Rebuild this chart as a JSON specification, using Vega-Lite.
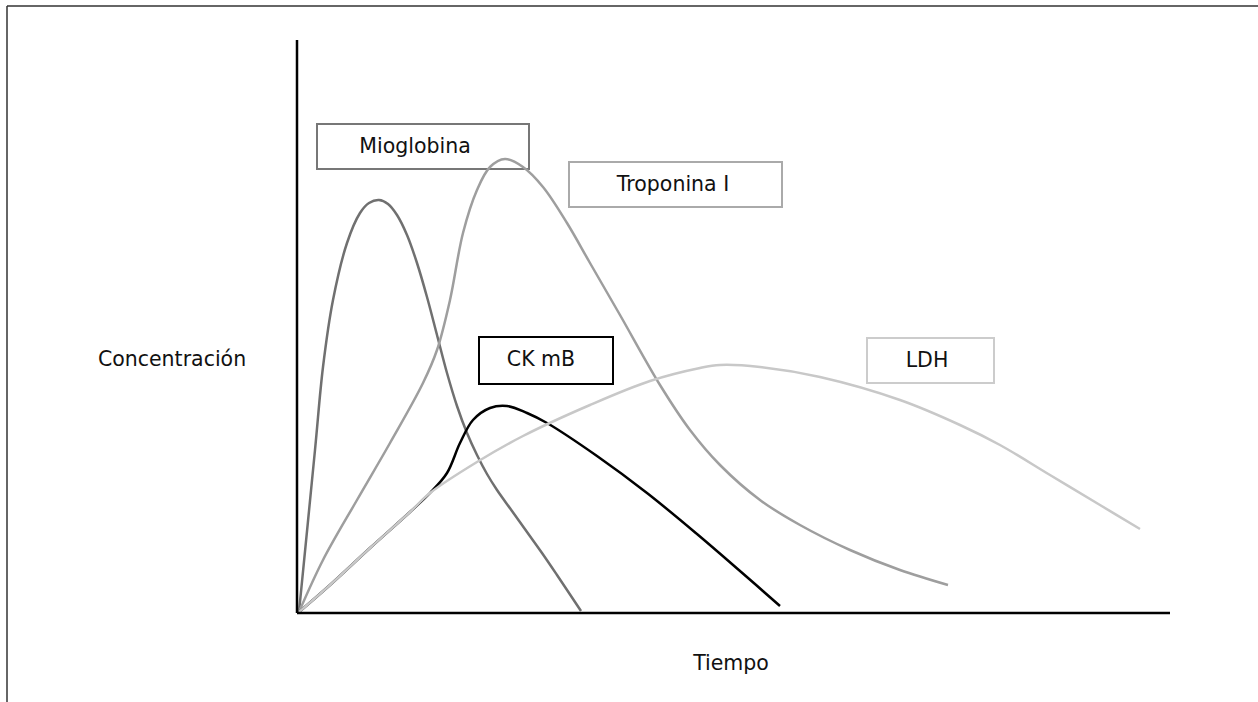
{
  "$schema": "https://vega.github.io/schema/vega-lite/v6.json",
  "width": 1258,
  "height": 702,
  "autosize": {"type": "none"},
  "padding": 0,
  "background": "white",
  "config": {"view": {"stroke": null}, "font": "DejaVu Sans"},
  "datasets": {
    "curves": [
      {"serie": "Mioglobina", "t": 2, "c": 1}, {"serie": "Mioglobina", "t": 18, "c": 163}, {"serie": "Mioglobina", "t": 26, "c": 246}, {"serie": "Mioglobina", "t": 36, "c": 313}, {"serie": "Mioglobina", "t": 50, "c": 370}, {"serie": "Mioglobina", "t": 63, "c": 400}, {"serie": "Mioglobina", "t": 72, "c": 410}, {"serie": "Mioglobina", "t": 82, "c": 413}, {"serie": "Mioglobina", "t": 91, "c": 409}, {"serie": "Mioglobina", "t": 100, "c": 398}, {"serie": "Mioglobina", "t": 110, "c": 378}, {"serie": "Mioglobina", "t": 120, "c": 350}, {"serie": "Mioglobina", "t": 130, "c": 316}, {"serie": "Mioglobina", "t": 140, "c": 278}, {"serie": "Mioglobina", "t": 150, "c": 240}, {"serie": "Mioglobina", "t": 160, "c": 207}, {"serie": "Mioglobina", "t": 170, "c": 180}, {"serie": "Mioglobina", "t": 180, "c": 158}, {"serie": "Mioglobina", "t": 190, "c": 139}, {"serie": "Mioglobina", "t": 200, "c": 123}, {"serie": "Mioglobina", "t": 215, "c": 102}, {"serie": "Mioglobina", "t": 230, "c": 81}, {"serie": "Mioglobina", "t": 245, "c": 60}, {"serie": "Mioglobina", "t": 260, "c": 38}, {"serie": "Mioglobina", "t": 284, "c": 2},
      {"serie": "Troponina I", "t": 2, "c": 1}, {"serie": "Troponina I", "t": 26, "c": 53}, {"serie": "Troponina I", "t": 60, "c": 113}, {"serie": "Troponina I", "t": 93, "c": 170}, {"serie": "Troponina I", "t": 126, "c": 230}, {"serie": "Troponina I", "t": 140, "c": 263}, {"serie": "Troponina I", "t": 153, "c": 313}, {"serie": "Troponina I", "t": 166, "c": 380}, {"serie": "Troponina I", "t": 180, "c": 423}, {"serie": "Troponina I", "t": 193, "c": 446}, {"serie": "Troponina I", "t": 208, "c": 454}, {"serie": "Troponina I", "t": 226, "c": 446}, {"serie": "Troponina I", "t": 246, "c": 426}, {"serie": "Troponina I", "t": 270, "c": 390}, {"serie": "Troponina I", "t": 293, "c": 350}, {"serie": "Troponina I", "t": 323, "c": 298}, {"serie": "Troponina I", "t": 363, "c": 228}, {"serie": "Troponina I", "t": 393, "c": 183}, {"serie": "Troponina I", "t": 423, "c": 148}, {"serie": "Troponina I", "t": 463, "c": 113}, {"serie": "Troponina I", "t": 503, "c": 88}, {"serie": "Troponina I", "t": 553, "c": 63}, {"serie": "Troponina I", "t": 603, "c": 43}, {"serie": "Troponina I", "t": 651, "c": 28},
      {"serie": "CK mB", "t": 2, "c": 1}, {"serie": "CK mB", "t": 33, "c": 28}, {"serie": "CK mB", "t": 73, "c": 65}, {"serie": "CK mB", "t": 113, "c": 101}, {"serie": "CK mB", "t": 133, "c": 120}, {"serie": "CK mB", "t": 150, "c": 140}, {"serie": "CK mB", "t": 163, "c": 170}, {"serie": "CK mB", "t": 176, "c": 193}, {"serie": "CK mB", "t": 193, "c": 205}, {"serie": "CK mB", "t": 210, "c": 207}, {"serie": "CK mB", "t": 230, "c": 200}, {"serie": "CK mB", "t": 250, "c": 190}, {"serie": "CK mB", "t": 300, "c": 157}, {"serie": "CK mB", "t": 350, "c": 120}, {"serie": "CK mB", "t": 400, "c": 79}, {"serie": "CK mB", "t": 443, "c": 42}, {"serie": "CK mB", "t": 483, "c": 7},
      {"serie": "LDH", "t": 2, "c": 1}, {"serie": "LDH", "t": 33, "c": 28}, {"serie": "LDH", "t": 73, "c": 65}, {"serie": "LDH", "t": 113, "c": 101}, {"serie": "LDH", "t": 133, "c": 120}, {"serie": "LDH", "t": 180, "c": 151}, {"serie": "LDH", "t": 226, "c": 177}, {"serie": "LDH", "t": 293, "c": 208}, {"serie": "LDH", "t": 353, "c": 232}, {"serie": "LDH", "t": 403, "c": 245}, {"serie": "LDH", "t": 423, "c": 248}, {"serie": "LDH", "t": 463, "c": 246}, {"serie": "LDH", "t": 523, "c": 236}, {"serie": "LDH", "t": 603, "c": 213}, {"serie": "LDH", "t": 663, "c": 188}, {"serie": "LDH", "t": 703, "c": 168}, {"serie": "LDH", "t": 753, "c": 138}, {"serie": "LDH", "t": 803, "c": 108}, {"serie": "LDH", "t": 843, "c": 84}
    ],
    "boxes": [
      {"serie": "Mioglobina", "t1": 20, "t2": 232, "c1": 444, "c2": 489, "tx": 118, "cy": 466},
      {"serie": "Troponina I", "t1": 272, "t2": 485, "c1": 406, "c2": 451, "tx": 376, "cy": 428},
      {"serie": "CK mB", "t1": 182, "t2": 316, "c1": 229, "c2": 276, "tx": 244, "cy": 253},
      {"serie": "LDH", "t1": 570, "t2": 697, "c1": 230, "c2": 275, "tx": 630, "cy": 252}
    ],
    "axes": [
      {"eje": "Concentración", "t1": 0, "t2": 0, "c1": 0, "c2": 573, "tx": -125, "cy": 253},
      {"eje": "Tiempo", "t1": 0, "t2": 873, "c1": 0, "c2": 0, "tx": 434, "cy": -51}
    ],
    "frame": [
      {"lado": "arriba", "t1": -290, "t2": 961, "c1": 607, "c2": 607},
      {"lado": "izquierda", "t1": -290, "t2": -290, "c1": -89, "c2": 607}
    ]
  },
  "layer": [
    {
      "data": {"name": "frame"},
      "mark": {"type": "rule", "stroke": "#333333", "strokeWidth": 1.5},
      "encoding": {
        "x": {"field": "t1", "type": "quantitative", "scale": {"domain": [-297, 961], "nice": false, "zero": false}, "axis": null},
        "x2": {"field": "t2"},
        "y": {"field": "c1", "type": "quantitative", "scale": {"domain": [-89, 613], "nice": false, "zero": false}, "axis": null},
        "y2": {"field": "c2"}
      }
    },
    {
      "data": {"name": "boxes"},
      "mark": {"type": "rect", "fill": "white", "strokeWidth": 2},
      "encoding": {
        "x": {"field": "t1", "type": "quantitative"},
        "x2": {"field": "t2"},
        "y": {"field": "c1", "type": "quantitative"},
        "y2": {"field": "c2"},
        "stroke": {"field": "serie", "type": "nominal", "scale": {"domain": ["Mioglobina", "Troponina I", "CK mB", "LDH"], "range": ["#777777", "#aaaaaa", "#000000", "#cccccc"]}, "legend": null}
      }
    },
    {
      "data": {"name": "boxes"},
      "mark": {"type": "text", "fontSize": 20.5, "font": "DejaVu Sans", "color": "#111111", "align": "center", "baseline": "middle"},
      "encoding": {
        "x": {"field": "tx", "type": "quantitative"},
        "y": {"field": "cy", "type": "quantitative"},
        "text": {"field": "serie"}
      }
    },
    {
      "data": {"name": "curves"},
      "mark": {"type": "line", "interpolate": "catmull-rom", "strokeWidth": 2.5},
      "encoding": {
        "x": {"field": "t", "type": "quantitative"},
        "y": {"field": "c", "type": "quantitative"},
        "detail": {"field": "serie"},
        "color": {"field": "serie", "type": "nominal", "scale": {"domain": ["Mioglobina", "Troponina I", "CK mB", "LDH"], "range": ["#707070", "#9e9e9e", "#000000", "#c8c8c8"]}, "legend": null}
      }
    },
    {
      "data": {"name": "axes"},
      "mark": {"type": "rule", "stroke": "#000000", "strokeWidth": 2.5},
      "encoding": {
        "x": {"field": "t1", "type": "quantitative"},
        "x2": {"field": "t2"},
        "y": {"field": "c1", "type": "quantitative"},
        "y2": {"field": "c2"}
      }
    },
    {
      "data": {"name": "axes"},
      "mark": {"type": "text", "fontSize": 20.5, "font": "DejaVu Sans", "color": "#111111", "align": "center", "baseline": "middle"},
      "encoding": {
        "x": {"field": "tx", "type": "quantitative"},
        "y": {"field": "cy", "type": "quantitative"},
        "text": {"field": "eje"}
      }
    }
  ]
}
